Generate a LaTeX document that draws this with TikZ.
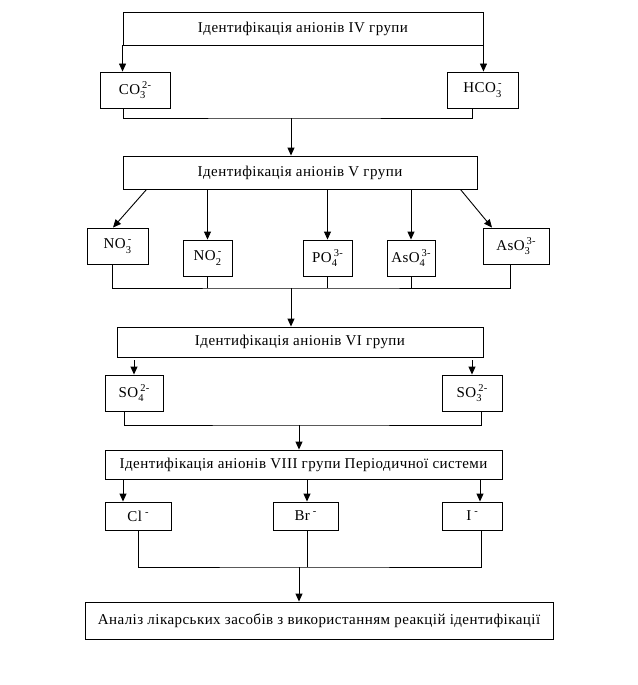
\documentclass[tikz,border=0pt]{standalone}
\usepackage{fontspec}
\setmainfont{Liberation Serif}[LetterSpace=3]
\usetikzlibrary{arrows.meta}
\newcommand\chemion[3]{#1\rlap{\raisebox{-4.5pt}{\fontsize{10.5}{10.5}\selectfont #2}}\hspace{2pt}\raisebox{6pt}{\fontsize{10.5}{10.5}\selectfont #3}}
\newcommand\haloion[2]{#1\hspace{3pt}\raisebox{6pt}{\fontsize{10.5}{10.5}\selectfont #2}}
\begin{document}
\begin{tikzpicture}[x=1pt,y=-1pt,
  box/.style={draw,line width=0.9pt,inner sep=0pt,font=\fontsize{15}{17}\selectfont},
  arr/.style={line width=0.9pt,-{Triangle[length=8pt,width=7pt]}},
  ln/.style={line width=0.9pt}]
\useasboundingbox (0,0) rectangle (637,685);
% group IV
\node[box,minimum width=360pt,minimum height=33pt] (g4) at (303,28.5) {Ідентифікація аніонів IV групи};
\node[box,minimum width=70pt,minimum height=36pt] (co3) at (135,90) {\chemion{CO}{3}{2-}};
\node[box,minimum width=71pt,minimum height=36pt] (hco3) at (482.5,90) {\chemion{HCO}{3}{-}};
\draw[arr] (g4.south west) -- (g4.south west |- co3.north);
\draw[arr] (g4.south east) -- (g4.south east |- hco3.north);
\coordinate (m1) at (291,118);
% group V
\node[box,minimum width=354pt,minimum height=33pt] (g5) at (300,172.5) {Ідентифікація аніонів V групи};
\draw[ln] ([xshift=-12pt]co3.south) |- (m1) -| ([xshift=-10.5pt]hco3.south);
\draw[arr] (m1) -- (m1 |- g5.north);
\node[box,minimum width=61pt,minimum height=36pt] (no3) at (117.5,246) {\chemion{NO}{3}{-}};
\node[box,minimum width=49pt,minimum height=36pt] (no2) at (207.5,258) {\chemion{NO}{2}{-}};
\node[box,minimum width=49pt,minimum height=36pt] (po4) at (327.5,258) {\chemion{PO}{4}{3-}};
\node[box,minimum width=48pt,minimum height=36pt] (aso4) at (411,258) {\chemion{AsO}{4}{3-}};
\node[box,minimum width=66pt,minimum height=36pt] (aso3) at (516,246) {\chemion{AsO}{3}{3-}};
\draw[arr] ([xshift=24pt]g5.south west) -- ([xshift=-4.5pt]no3.north);
\draw[arr] (g5.south -| no2.north) -- (no2.north);
\draw[arr] (g5.south -| po4.north) -- (po4.north);
\draw[arr] (g5.south -| aso4.north) -- (aso4.north);
\draw[arr] ([xshift=-17pt]g5.south east) -- ([xshift=-24pt]aso3.north);
\coordinate (m2) at (291,288);
\draw[ln] ([xshift=-5.5pt]no3.south) |- (m2) -| ([xshift=-6pt]aso3.south);
\draw[ln] (no2.south) -- (no2.south |- m2);
\draw[ln] (po4.south) -- (po4.south |- m2);
\draw[ln] (aso4.south) -- (aso4.south |- m2);
% group VI
\node[box,minimum width=366pt,minimum height=30pt] (g6) at (300,342) {Ідентифікація аніонів VI групи};
\draw[arr] (m2) -- (m2 |- g6.north);
\node[box,minimum width=58pt,minimum height=36pt] (so4) at (134,393) {\chemion{SO}{4}{2-}};
\node[box,minimum width=60pt,minimum height=36pt] (so3) at (472,393) {\chemion{SO}{3}{2-}};
\draw[arr] ([yshift=-3pt]g6.south -| so4.north) -- (so4.north);
\draw[arr] ([yshift=-3pt]g6.south -| so3.north) -- (so3.north);
\coordinate (m3) at (299,425);
\draw[ln] ([xshift=-10pt]so4.south) |- (m3) -| ([xshift=9pt]so3.south);
% group VIII
\node[box,minimum width=397pt,minimum height=29pt] (g8) at (303.5,464.5) {Ідентифікація аніонів VIII групи Періодичної системи};
\draw[arr] (m3) -- (m3 |- g8.north);
\node[box,minimum width=66pt,minimum height=28pt] (cl) at (138,516) {\haloion{Cl}{-}};
\node[box,minimum width=65pt,minimum height=28pt] (br) at (305.5,516) {\haloion{Br}{-}};
\node[box,minimum width=60pt,minimum height=28pt] (io) at (472,516) {\haloion{I}{-}};
\draw[arr] ([xshift=-15pt]g8.south -| cl.north) -- ([xshift=-15pt]cl.north);
\draw[arr] ([xshift=1.5pt]g8.south -| br.north) -- ([xshift=1.5pt]br.north);
\draw[arr] ([xshift=8pt]g8.south -| io.north) -- ([xshift=8pt]io.north);
\coordinate (m4) at (299,567);
\draw[ln] (cl.south) |- (m4) -| ([xshift=9pt]io.south);
\draw[ln] ([xshift=1.5pt]br.south) -- ([xshift=1.5pt]br.south |- m4);
% final
\node[box,minimum width=468pt,minimum height=37pt] (fin) at (319,620.5) {Аналіз лікарських засобів з використанням реакцій ідентифікації};
\draw[arr] (m4) -- (m4 |- fin.north);
\end{tikzpicture}
\end{document}
